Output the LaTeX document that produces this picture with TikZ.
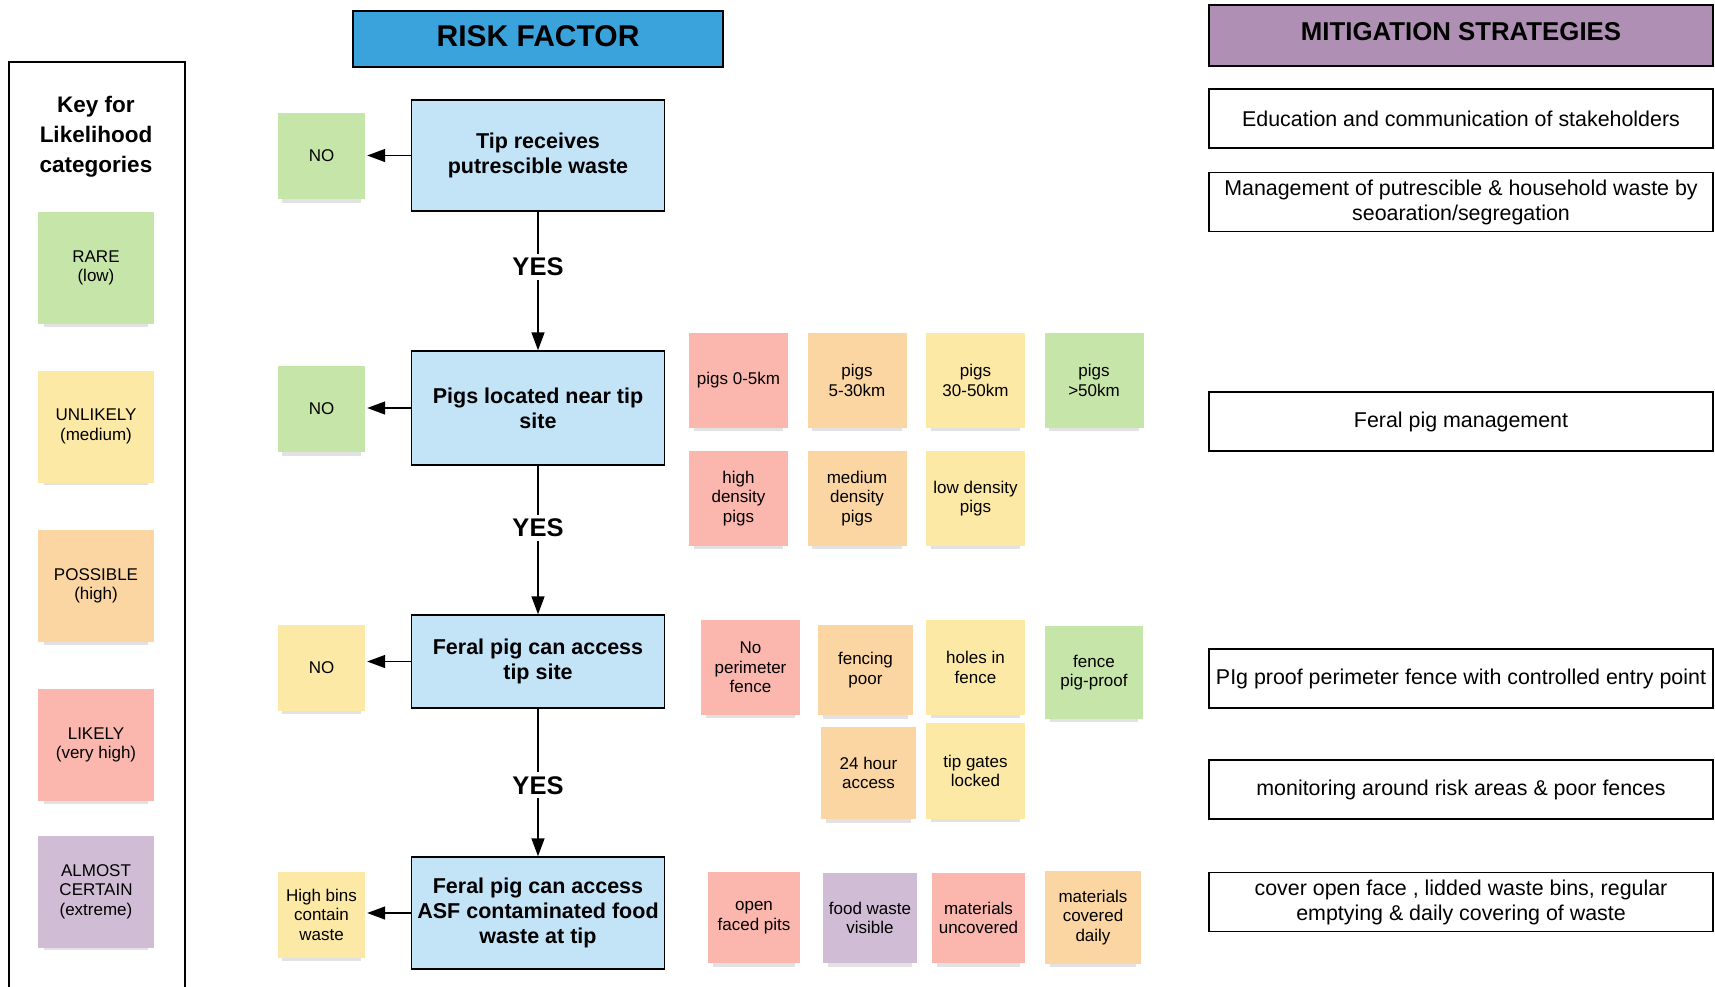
\documentclass[tikz,border=0pt]{standalone}
\usepackage{fontspec}
\setmainfont{Liberation Sans}
\usepackage{tikz}
\usetikzlibrary{positioning}
\usetikzlibrary{arrows.meta}
\usetikzlibrary{shadows}
\definecolor{riskblue}{HTML}{3BA3DB}
\definecolor{stepblue}{HTML}{C3E4F7}
\definecolor{mitpurple}{HTML}{B08FB4}
\definecolor{rarecol}{HTML}{C6E6A9}
\definecolor{unlikelycol}{HTML}{FDE9A6}
\definecolor{possiblecol}{HTML}{FCD6A2}
\definecolor{likelycol}{HTML}{FBB6AD}
\definecolor{certaincol}{HTML}{D0BCD5}
\tikzset{
  sticky/.style={rectangle, inner sep=2pt, align=center, minimum width=99pt, minimum height=95pt,
    font=\fontsize{17}{19.5}\selectfont,
    drop shadow={shadow xshift=0pt, shadow yshift=-9pt, shadow scale=.9, opacity=.25, fill=black!45}},
  stepbox/.style={rectangle, draw=black, line width=1.5pt, fill=stepblue, align=center, inner sep=2pt,
    minimum width=253pt, font=\fontsize{21.5}{25}\selectfont\bfseries},
  header/.style={rectangle, draw=black, line width=1.5pt, align=center,
    font=\fontsize{30}{32}\selectfont\bfseries},
  mitbox/.style={rectangle, draw=black, line width=1.5pt, align=center, inner sep=2pt,
    minimum width=504pt, minimum height=59pt, font=\fontsize{21.4}{25}\selectfont},
  yes/.style={fill=white, inner sep=4pt, font=\fontsize{25.5}{28}\selectfont\bfseries},
  flowarrow/.style={draw=black, line width=1.5pt, -{Triangle[length=18pt,width=13pt]}}
}
\begin{document}
\begin{tikzpicture}[x=1pt,y=-1pt]
        \useasboundingbox (0,0) rectangle (1715,986);
        % headers
        \node[header, fill=riskblue, minimum width=370pt, minimum height=56pt, text depth=6pt] (risk) at (538,39) {RISK FACTOR};
        \node[header, fill=mitpurple, minimum width=504pt, minimum height=61pt, text depth=9pt,
              font=\fontsize{25.8}{28}\selectfont\bfseries] (mitig) at (1461,35.5) {MITIGATION STRATEGIES};
        % key
        \draw[line width=1.5pt] (9,995) -- (9,62) -- (185,62) -- (185,995);
        \node[align=center, font=\fontsize{22.5}{30}\selectfont\bfseries] (keytitle) at (96,137) {Key for\\Likelihood\\categories};
        \begin{scope}[every node/.style={sticky, minimum width=116pt, minimum height=112pt}]
            \node[fill=rarecol] (rare) at (96,268) {RARE\\(low)};
            \node[fill=unlikelycol] (unlikely) at (96,426.5) {UNLIKELY\\(medium)};
            \node[fill=possiblecol] (possible) at (96,586) {POSSIBLE\\(high)};
            \node[fill=likelycol] (likely) at (96,745) {LIKELY\\(very high)};
            \node[fill=certaincol] (certain) at (96,891.5) {ALMOST\\CERTAIN\\(extreme)};
        \end{scope}
        % risk factor steps
        \begin{scope}[every node/.style={stepbox}]
            \node[minimum height=111pt] (tip) at (538,155.5) {Tip receives\\putrescible waste};
            \node[minimum height=114pt] (near) at (538,408) {Pigs located near tip\\site};
            \node[minimum height=93pt] (access) at (538,661.5) {Feral pig can access\\tip site};
            \node[minimum height=112pt] (food) at (538,913) {Feral pig can access\\ASF contaminated food\\waste at tip};
        \end{scope}
        \begin{scope}[every node/.style={sticky, minimum width=87pt, minimum height=86pt}]
            \node[fill=rarecol] (notip) at (321.5,156) {NO};
            \node[fill=rarecol] (nonear) at (321.5,409) {NO};
            \node[fill=unlikelycol] (noaccess) at (321.5,667.5) {NO};
            \node[fill=unlikelycol] (bins) at (321.5,914.5) {High bins\\contain\\waste};
        \end{scope}
        \draw[flowarrow] (tip) -- node[yes, pos=.4] {YES} (near);
        \draw[flowarrow] (near) -- node[yes, pos=.42] {YES} (access);
        \draw[flowarrow] (access) -- node[yes, pos=.52] {YES} (food);
        \draw[flowarrow, shorten >=2pt] (tip.west) -- (tip.west -| notip.east);
        \draw[flowarrow, shorten >=2pt] (near.west) -- (near.west -| nonear.east);
        \draw[flowarrow, shorten >=2pt] (access.west) -- (access.west -| noaccess.east);
        \draw[flowarrow, shorten >=2pt] (food.west) -- (food.west -| bins.east);
        % likelihood notes
        \begin{scope}[every node/.style={sticky}]
            \node[fill=likelycol] (km5) at (738.5,380.5) {pigs 0-5km};
            \node[fill=possiblecol] (km30) at (857,380.5) {pigs\\5-30km};
            \node[fill=unlikelycol] (km50) at (975.5,380.5) {pigs\\30-50km};
            \node[fill=rarecol] (kmfar) at (1094,380.5) {pigs\\>50km};
            \node[fill=likelycol] (highdens) at (738.5,498.5) {high\\density\\pigs};
            \node[fill=possiblecol] (meddens) at (857,498.5) {medium\\density\\pigs};
            \node[fill=unlikelycol] (lowdens) at (975.5,498.5) {low density\\pigs};
            \node[fill=likelycol] (nofence) at (750.5,667.5) {No\\perimeter\\fence};
            \node[fill=possiblecol, minimum width=95pt, minimum height=90pt] (poorfence) at (865.5,670) {fencing\\poor};
            \node[fill=unlikelycol] (holes) at (975.5,667.5) {holes in\\fence};
            \node[fill=rarecol, minimum width=98pt, minimum height=93pt] (pigproof) at (1094,672.5) {fence\\pig-proof};
            \node[fill=possiblecol, minimum width=95pt, minimum height=92pt] (allhours) at (868.5,773) {24 hour\\access};
            \node[fill=unlikelycol, minimum height=96pt] (gates) at (975.5,771) {tip gates\\locked};
            \node[fill=likelycol, minimum width=92pt, minimum height=91pt] (pits) at (754,917.5) {open\\faced pits};
            \node[fill=certaincol, minimum width=94pt, minimum height=90pt] (visible) at (870,918) {food waste\\visible};
            \node[fill=likelycol, minimum width=93pt, minimum height=90pt] (uncovered) at (978.5,918) {materials\\uncovered};
            \node[fill=possiblecol, minimum width=96pt, minimum height=93pt] (covered) at (1093,917.5) {materials\\covered\\daily};
        \end{scope}
        % mitigation strategies
        \begin{scope}[every node/.style={mitbox}]
            \node (educ) at (1461,118.5) {Education and communication of stakeholders};
            \node (separate) at (1461,202) {Management of putrescible \& household waste by\\seoaration/segregation};
            \node (ferals) at (1461,421.5) {Feral pig management};
            \node (perim) at (1461,678.5) {PIg proof perimeter fence with controlled entry point};
            \node (monitor) at (1461,789.5) {monitoring around risk areas \& poor fences};
            \node (cover) at (1461,902) {cover open face , lidded waste bins, regular\\emptying \& daily covering of waste};
        \end{scope}
\end{tikzpicture}
\end{document}
